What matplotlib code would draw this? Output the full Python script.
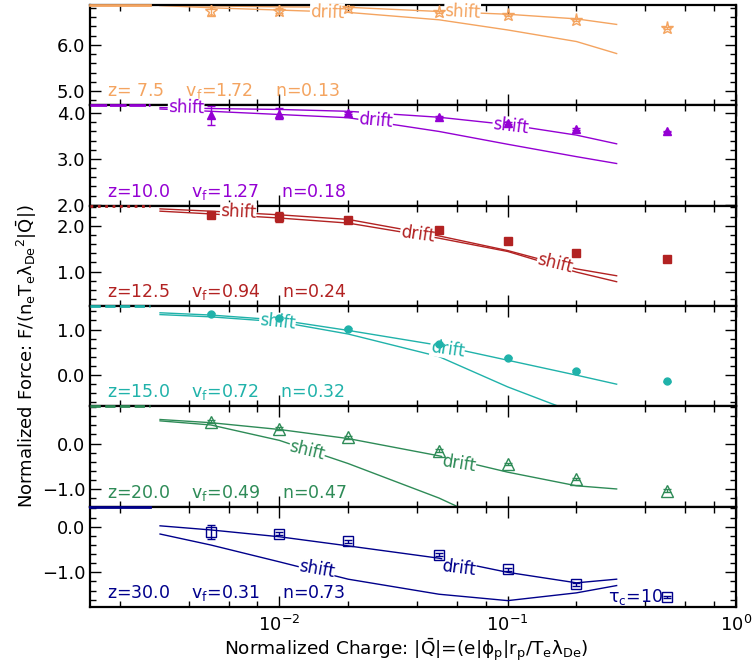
import numpy as np
import matplotlib.pyplot as plt
from matplotlib.ticker import MultipleLocator, FuncFormatter, LogLocator, NullFormatter

plt.rcParams['font.family'] = 'DejaVu Sans'
plt.rcParams['mathtext.default'] = 'regular'

# charge values of the simulation points and of the theory curves
q_sim = [0.005, 0.01, 0.02, 0.05, 0.1, 0.2, 0.5]
q_theory = [0.003, 0.005, 0.01, 0.02, 0.05, 0.1, 0.2, 0.3]

# z = 7.5
f_sim_75 = [6.72, 6.74, 6.79, 6.70, 6.65, 6.54, 6.36]
err_75 = [0.10, 0.05, 0.02, 0.02, 0.02, 0.02, 0.02]
f_a_75 = [6.85, 6.84, 6.82, 6.81, 6.72, 6.66, 6.56, 6.44]
f_b_75 = [6.85, 6.80, 6.75, 6.70, 6.54, 6.32, 6.07, 5.81]

# z = 10.0
f_sim_10 = [3.95, 3.99, 4.01, 3.91, 3.79, 3.65, 3.60]
err_10 = [0.21, 0.12, 0.02, 0.02, 0.02, 0.02, 0.02]
f_a_10 = [4.12, 4.10, 4.08, 4.04, 3.91, 3.75, 3.52, 3.33]
f_b_10 = [4.09, 4.04, 3.97, 3.90, 3.60, 3.32, 3.05, 2.90]

# z = 12.5
f_sim_125 = [2.24, 2.20, 2.13, 1.91, 1.66, 1.41, 1.27]
err_125 = [0.04, 0.11, 0.02, 0.02, 0.02, 0.02, 0.02]
f_a_125 = [2.37, 2.32, 2.24, 2.14, 1.78, 1.46, 1.06, 0.91]
f_b_125 = [2.32, 2.26, 2.17, 2.06, 1.73, 1.44, 0.99, 0.78]

# z = 15.0
f_sim_15 = [1.35, 1.26, 1.01, 0.68, 0.38, 0.09, -0.15]
err_15 = [0.02, 0.02, 0.02, 0.02, 0.02, 0.02, 0.02]
f_a_15 = [1.37, 1.32, 1.21, 0.98, 0.65, 0.32, -0.01, -0.21]
f_b_15 = [1.33, 1.28, 1.17, 0.90, 0.40, -0.27, -0.85, -1.20]

# z = 20.0
f_sim_20 = [0.48, 0.33, 0.14, -0.16, -0.45, -0.78, -1.04]
err_20 = [0.03, 0.03, 0.03, 0.03, 0.03, 0.03, 0.03]
f_a_20 = [0.53, 0.46, 0.31, 0.11, -0.27, -0.63, -0.93, -1.00]
f_b_20 = [0.50, 0.41, 0.07, -0.44, -1.20, -1.90, -2.30, -2.50]

# z = 30.0
f_sim_30 = [-0.11, -0.15, -0.32, -0.61, -0.93, -1.26, -1.54]
err_30 = [0.15, 0.03, 0.03, 0.03, 0.03, 0.03, 0.03]
f_a_30 = [0.02, -0.07, -0.22, -0.42, -0.69, -1.00, -1.23, -1.15]
f_b_30 = [-0.16, -0.40, -0.77, -1.15, -1.48, -1.62, -1.45, -1.29]

panel_text = ['z= 7.5    v$_f$=1.72    n=0.13',
              'z=10.0    v$_f$=1.27    n=0.18',
              'z=12.5    v$_f$=0.94    n=0.24',
              'z=15.0    v$_f$=0.72    n=0.32',
              'z=20.0    v$_f$=0.49    n=0.47',
              'z=30.0    v$_f$=0.31    n=0.73']
colors = ['#F4A460', '#9400D3', '#B22222', '#20B2AA', '#2E8B57', '#00008B']
ylims = [(4.69, 6.86), (1.98, 4.17), (0.25, 2.44), (-0.70, 1.52), (-1.39, 0.82), (-1.76, 0.44)]

sims = [f_sim_75, f_sim_10, f_sim_125, f_sim_15, f_sim_20, f_sim_30]
errs = [err_75, err_10, err_125, err_15, err_20, err_30]
curves_a = [f_a_75, f_a_10, f_a_125, f_a_15, f_a_20, f_a_30]
curves_b = [f_b_75, f_b_10, f_b_125, f_b_15, f_b_20, f_b_30]

markers = [dict(marker='*', ms=9.5, mfc='none', mew=1.0),
           dict(marker='^', ms=6),
           dict(marker='s', ms=6),
           dict(marker='o', ms=5),
           dict(marker='^', ms=8, mfc='none', mew=1.0),
           dict(marker='s', ms=7, mfc='none', mew=1.0)]
top_dash = ['-', (0, (6, 1)), ':', '--', '--', '-']

# inline curve labels (text, q, F, rotation) per panel
curve_labels = [
    [('drift', 0.0162, 6.70, -2), ('shift', 0.0633, 6.72, -3)],
    [('shift', 0.0039, 4.12, -2), ('drift', 0.0264, 3.83, -5), ('shift', 0.103, 3.71, -7)],
    [('shift', 0.0066, 2.30, -3), ('drift', 0.0402, 1.81, -8), ('shift', 0.161, 1.17, -14)],
    [('shift', 0.0098, 1.17, -6), ('drift', 0.0544, 0.57, -8)],
    [('shift', 0.0132, -0.16, -14), ('drift', 0.061, -0.45, -9)],
    [('shift', 0.0146, -0.93, -10), ('drift', 0.061, -0.91, -7)],
]

xmin, xmax = 0.00148, 1.0
fig = plt.figure(figsize=(7.52, 6.68), dpi=100)
left, right, top, bottom = 90 / 752, 736 / 752, 1 - 5 / 668, 1 - 607 / 668
h = (top - bottom) / 6

minus_fmt = FuncFormatter(lambda v, p: ('%.1f' % v).replace('-', '\u2212'))

for i in range(6):
    ax = fig.add_axes([left, top - (i + 1) * h, right - left, h])
    c = colors[i]
    ax.set_xscale('log')
    ax.set_xlim(xmin, xmax)
    ax.set_ylim(*ylims[i])

    ax.plot(q_theory, curves_a[i], color=c, lw=1.0, zorder=2)
    ax.plot(q_theory, curves_b[i], color=c, lw=1.0, zorder=2)
    ax.plot([xmin, 0.0027], [ylims[i][1]] * 2, color=c, lw=2, ls=top_dash[i],
            zorder=5, clip_on=False)

    for txt, qx, fy, rot in curve_labels[i]:
        ax.text(qx, fy, txt, color=c, fontsize=12, ha='center', va='center',
                rotation=rot, zorder=3,
                bbox=dict(facecolor='white', edgecolor='none', pad=0.3))

    ax.errorbar(q_sim, sims[i], yerr=errs[i], ls='none', color=c, ecolor=c,
                elinewidth=1.0, capsize=3, zorder=4, **markers[i])

    ax.text(0.026, 0.09, panel_text[i], transform=ax.transAxes, color=c, fontsize=12.5)
    if i == 5:
        ax.text(0.275, -1.54, r'$\tau_c$=10', color=c, fontsize=12.5, va='center', zorder=3)

    ax.yaxis.set_major_locator(MultipleLocator(1.0))
    ax.yaxis.set_minor_locator(MultipleLocator(0.2))
    ax.yaxis.set_major_formatter(minus_fmt)
    ax.xaxis.set_minor_locator(LogLocator(base=10, subs=[2, 4, 6, 8]))
    ax.xaxis.set_minor_formatter(NullFormatter())
    ax.tick_params(which='both', direction='in', top=True, right=True, labelsize=13)
    ax.tick_params(which='major', length=8, width=1.0)
    ax.tick_params(which='minor', length=4, width=1.0)
    for s in ax.spines.values():
        s.set_linewidth(1.6)
    if i < 5:
        ax.tick_params(labelbottom=False)
    else:
        ax.tick_params(axis='x', pad=6)

fig.text(0.540, 1 - 650 / 668, r'Normalized Charge: |$\bar{Q}$|=(e|$\phi_p$|r$_p$/T$_e$$\lambda_{De}$)',
         ha='center', va='center', fontsize=13.3)
fig.text(0.036, 0.467, r'Normalized Force: F/(n$_e$T$_e$$\lambda_{De}$$^2$|$\bar{Q}$|)',
         ha='center', va='center', rotation=90, fontsize=13)

fig.savefig('out.png', dpi=100)
